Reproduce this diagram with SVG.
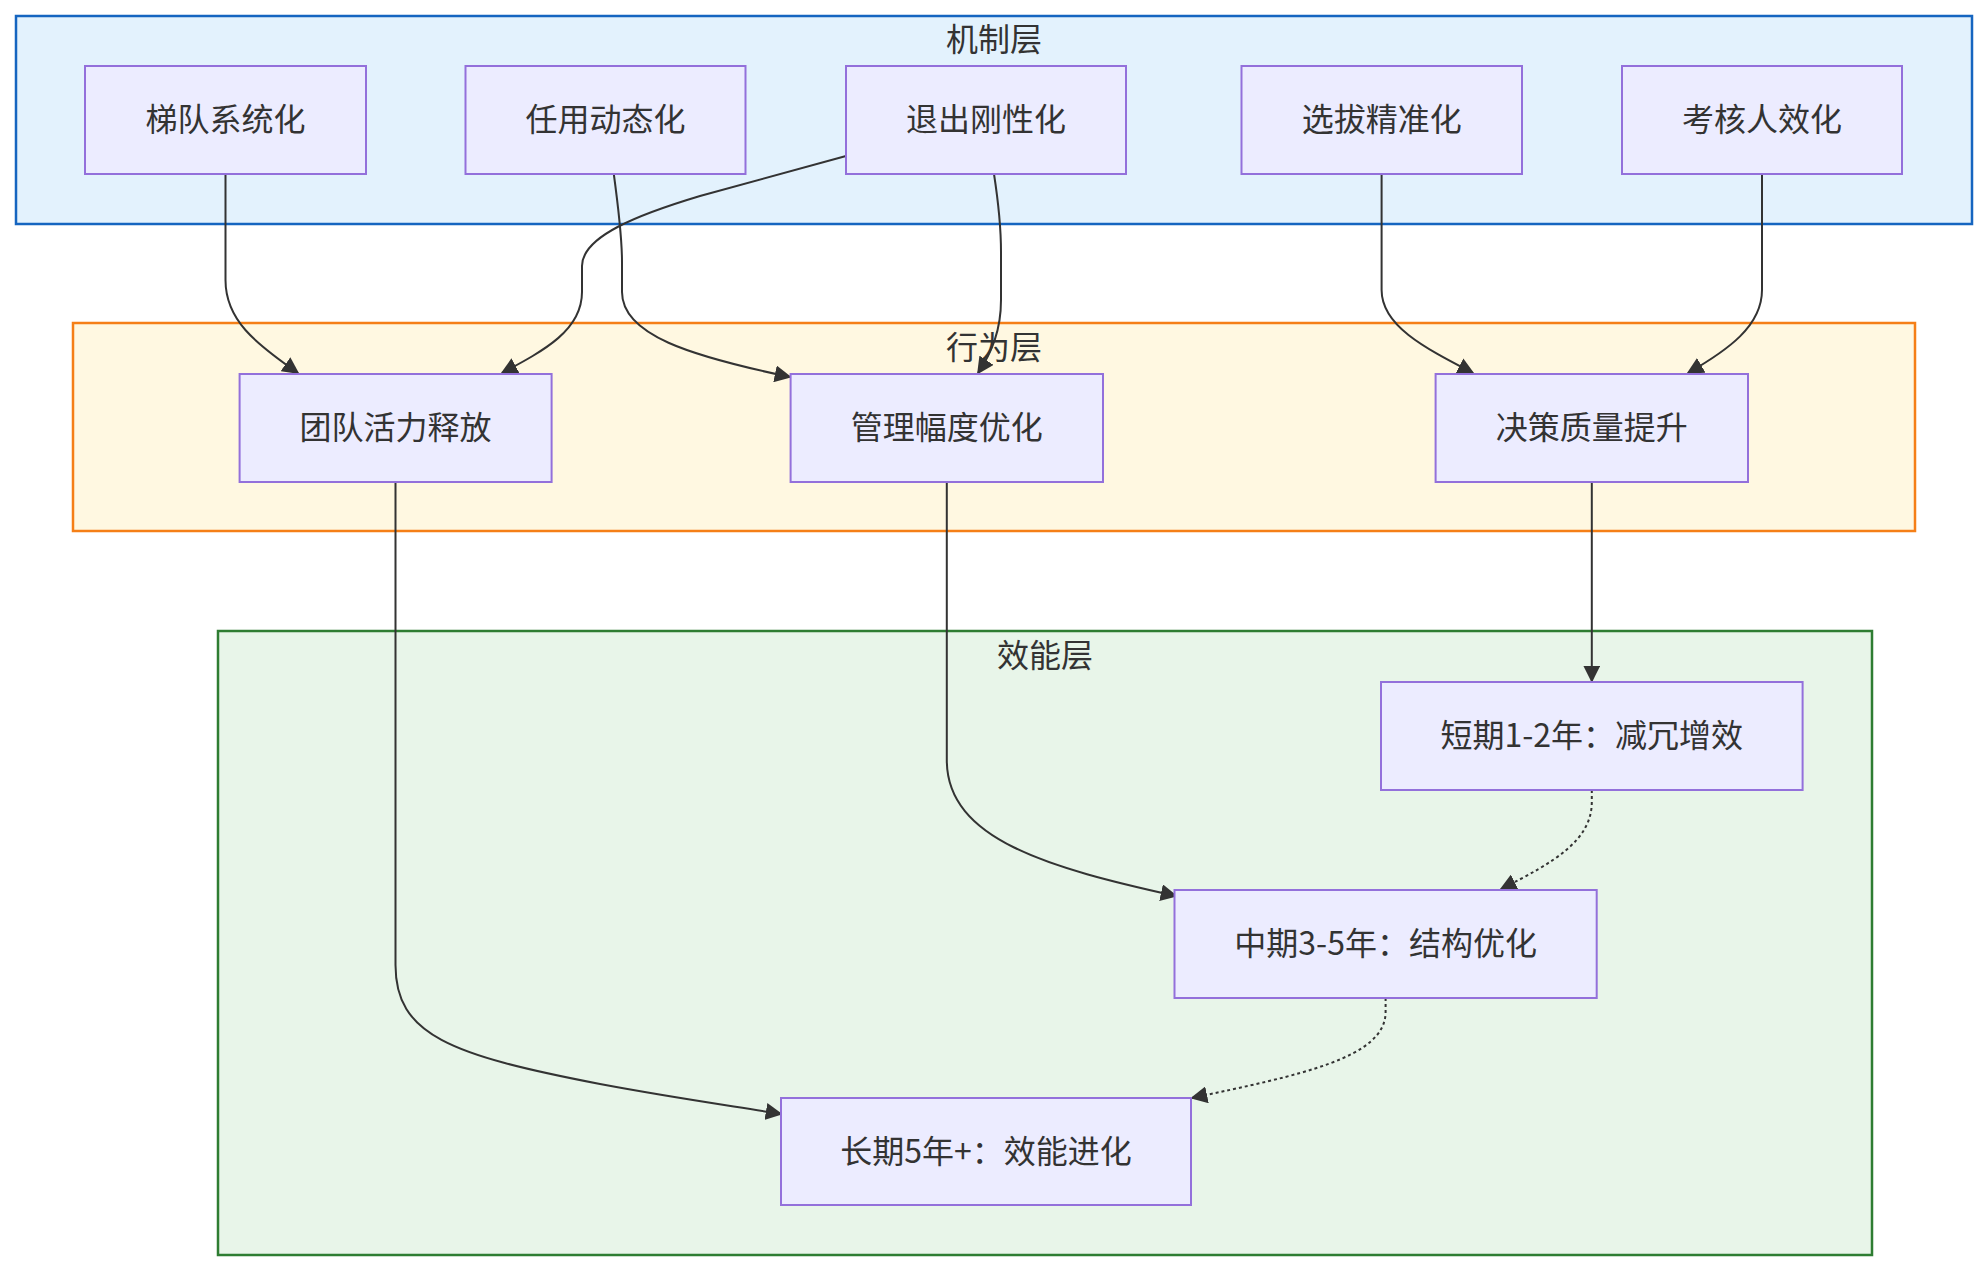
<svg xmlns="http://www.w3.org/2000/svg" width="1988" height="1272" viewBox="0 0 1988 1272">
<style>
  .cl-t{font-family:"Noto Sans CJK SC","Noto Sans",sans-serif;font-size:32px;fill:#333;text-anchor:middle;dominant-baseline:central}
  .node rect{fill:#ECECFF;stroke:#9370DB;stroke-width:2}
  .node text{font-family:"Noto Sans CJK SC","Noto Sans",sans-serif;font-size:32px;fill:#333;text-anchor:middle;dominant-baseline:central}
  .edge{fill:none;stroke:#333;stroke-width:2}
  .dot{stroke-dasharray:3 3}
</style>
<defs>
  <marker id="arr" viewBox="0 0 10 10" refX="9" refY="5" markerWidth="17" markerHeight="17" markerUnits="userSpaceOnUse" orient="auto">
    <path d="M0,0 L10,5 L0,10 z" fill="#333"/>
  </marker>
</defs>
<rect width="1988" height="1272" fill="#fff"/>
<g id="clusters">
  <g id="cluster-mech">
    <rect x="16" y="16" width="1956" height="208" fill="#E3F2FD" stroke="#1565C0" stroke-width="2.5"/>
    <text class="cl-t" x="994" y="37">机制层</text>
  </g>
  <g id="cluster-behav">
    <rect x="73" y="323" width="1842" height="208" fill="#FFF8E1" stroke="#F57F17" stroke-width="2.5"/>
    <text class="cl-t" x="994" y="345">行为层</text>
  </g>
  <g id="cluster-eff">
    <rect x="218" y="631" width="1654" height="624" fill="#E8F5E9" stroke="#2E7D32" stroke-width="2.5"/>
    <text class="cl-t" x="1045" y="653">效能层</text>
  </g>
</g>
<g id="edges">
  <path class="edge" marker-end="url(#arr)" d="M225.5,174 L225.5,280 C225.5,320 255,343 298,373"/>
  <path class="edge" marker-end="url(#arr)" d="M613.8,174 C618,205 622,235 622,262 L622,292 C622,335 690,356 790,377"/>
  <path class="edge" marker-end="url(#arr)" d="M846,156 L700,196 C640,214 582,236 582,266 L582,292 C582,330 545,350 502,373"/>
  <path class="edge" marker-end="url(#arr)" d="M994,174 C998,200 1001,225 1001,252 L1001,300 C1001,330 992,352 978,373"/>
  <path class="edge" marker-end="url(#arr)" d="M1381.6,174 L1381.6,290 C1381.6,326 1425,348 1473,373"/>
  <path class="edge" marker-end="url(#arr)" d="M1762,174 L1762,290 C1762,326 1728,350 1688,373"/>
  <path class="edge" marker-end="url(#arr)" d="M1591.8,482 L1591.8,681"/>
  <path class="edge" marker-end="url(#arr)" d="M946.8,482 L946.8,760 C946.8,840 1050,868 1176,896"/>
  <path class="edge" marker-end="url(#arr)" d="M395.5,482 L395.5,965 C395.5,1035 450,1055 600,1084 C680,1099 740,1107 781,1114"/>
  <path class="edge dot" marker-end="url(#arr)" d="M1591.8,790 L1591.8,802 C1591.8,840 1555,862 1501,889"/>
  <path class="edge dot" marker-end="url(#arr)" d="M1385.6,998 L1385.6,1012 C1385.6,1058 1300,1075 1192,1098"/>
</g>
<g id="n-tidui" class="node"><rect x="85" y="66" width="281" height="108"/><text x="225.5" y="117">梯队系统化</text></g>
<g id="n-renyong" class="node"><rect x="465.5" y="66" width="280" height="108"/><text x="605.5" y="117">任用动态化</text></g>
<g id="n-tuichu" class="node"><rect x="846" y="66" width="280" height="108"/><text x="986" y="117">退出刚性化</text></g>
<g id="n-xuanba" class="node"><rect x="1241.5" y="66" width="280.5" height="108"/><text x="1381.7" y="117">选拔精准化</text></g>
<g id="n-kaohe" class="node"><rect x="1622" y="66" width="280" height="108"/><text x="1762" y="117">考核人效化</text></g>
<g id="n-huoli" class="node"><rect x="239.6" y="374" width="312" height="108"/><text x="395.6" y="425">团队活力释放</text></g>
<g id="n-fudu" class="node"><rect x="790.6" y="374" width="312.4" height="108"/><text x="946.8" y="425">管理幅度优化</text></g>
<g id="n-juece" class="node"><rect x="1435.6" y="374" width="312.4" height="108"/><text x="1591.8" y="425">决策质量提升</text></g>
<g id="n-short" class="node"><rect x="1381" y="682" width="421.6" height="108"/><text x="1591.8" y="733">短期1-2年：减冗增效</text></g>
<g id="n-mid" class="node"><rect x="1174.5" y="890" width="422.2" height="108"/><text x="1385.6" y="941">中期3-5年：结构优化</text></g>
<g id="n-long" class="node"><rect x="781" y="1098" width="410" height="107"/><text x="986" y="1148.5">长期5年+：效能进化</text></g>
</svg>
